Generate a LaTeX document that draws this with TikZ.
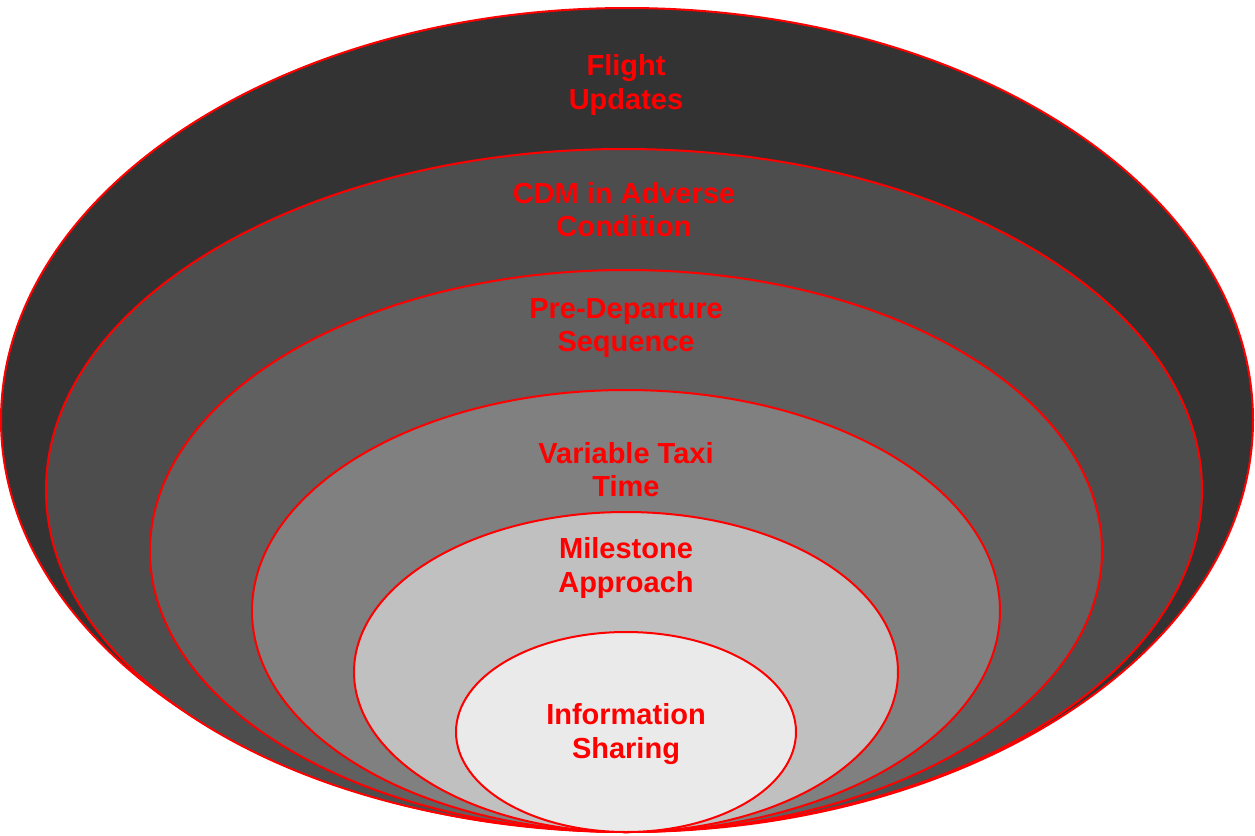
\documentclass[tikz,border=0pt]{standalone}
\usepackage{fontspec}
\setmainfont{Liberation Sans}
\usepackage{tikz}
\usetikzlibrary{shapes.geometric}

\definecolor{layerA}{HTML}{333333}
\definecolor{layerB}{HTML}{4D4D4D}
\definecolor{layerC}{HTML}{606060}
\definecolor{layerD}{HTML}{808080}
\definecolor{layerE}{HTML}{C0C0C0}
\definecolor{layerF}{HTML}{EAEAEA}

\begin{document}
\begin{tikzpicture}[x=0.5pt, y=-0.5pt,
	ring/.style={ellipse, draw=red, line width=1pt, inner sep=0pt},
	lbl/.style={text=red, align=center, font=\fontsize{14.5}{16.6}\selectfont\bfseries}]
	\useasboundingbox (0,0) rectangle (1255,836);
	% nested layers, all touching at the bottom
	\node[ring, fill=layerA, minimum width=626pt, minimum height=412pt] (flight) at (627,420) {};
	\node[ring, fill=layerB, minimum width=578pt, minimum height=341pt] (cdm) at (624,490) {};
	\node[ring, fill=layerC, minimum width=476pt, minimum height=281pt] (pds) at (626,551) {};
	\node[ring, fill=layerD, minimum width=374pt, minimum height=221pt] (vtt) at (626,611) {};
	\node[ring, fill=layerE, minimum width=272pt, minimum height=160pt] (mile) at (626,672) {};
	\node[ring, fill=layerF, minimum width=170pt, minimum height=100pt] (info) at (626,732) {};
	% labels
	\node[lbl] (flight-l) at (626,85) {Flight\\Updates};
	\node[lbl] (cdm-l) at (624,210) {CDM in Adverse\\Condition};
	\node[lbl] (pds-l) at (626,328) {Pre-Departure\\Sequence};
	\node[lbl] (vtt-l) at (626,470) {Variable Taxi\\Time};
	\node[lbl] (mile-l) at (626,568) {Milestone\\Approach};
	\node[lbl] (info-l) at (626,734) {Information\\Sharing};
\end{tikzpicture}
\end{document}
